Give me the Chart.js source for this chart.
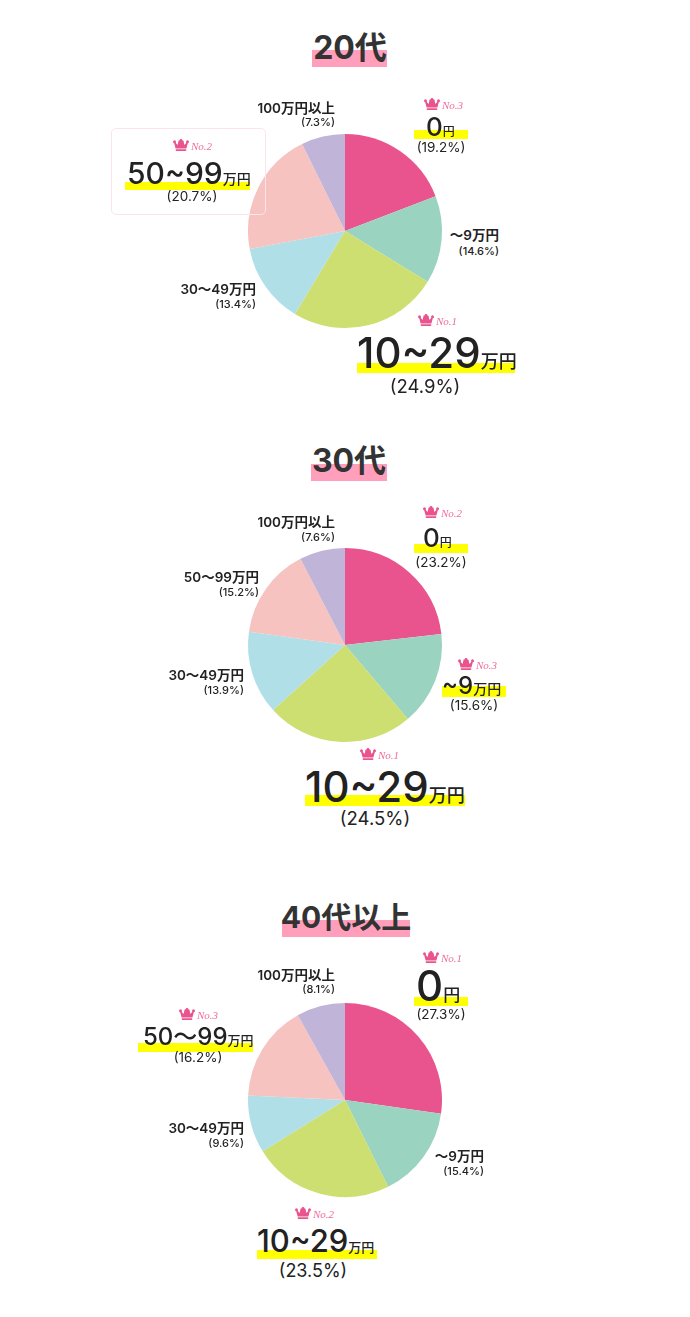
<!DOCTYPE html>
<html lang="ja">
<head>
<meta charset="utf-8">
<script src="https://cdn.jsdelivr.net/npm/chart.js@4"></script>
<style>
html, body { margin: 0; background: #fff; }
#page { position: relative; width: 690px; height: 1317px; overflow: hidden; font-family: Inter, "Noto Sans CJK JP", sans-serif; color: #222; }
#page canvas { position: absolute; left: 245px; }
.t { position: absolute; white-space: nowrap; line-height: 0; z-index: 2; }
.bar { position: absolute; z-index: 1; }
.ttl { color: #333; transform: translateX(-50%); }
.no { font-family: "Liberation Serif", serif; font-style: italic; color: #f06c9e; }
.crown { position: absolute; z-index: 2; }
</style>
</head>
<body>
<div id="page"></div>
<script>
const categoryNums = ['0', '〜9', '10〜29', '30〜49', '50〜99', '100'];
const categoryUnits = ['円', '万円', '万円', '万円', '万円', '万円以上'];
const groupNames = ['20代', '30代', '40代以上'];
const values20 = [19.2, 14.6, 24.9, 13.4, 20.7, 7.3];
const values30 = [23.2, 15.6, 24.5, 13.9, 15.2, 7.6];
const values40 = [27.3, 15.4, 23.5, 9.6, 16.2, 8.1];
const sliceColors = ['#e9548e', '#9ad3bf', '#ccdf70', '#b0dfe8', '#f6c3c0', '#c0b4d8'];

const page = document.getElementById('page');

function addText(cls, text, x, y, size, weight, align) {
    const d = document.createElement('div');
    d.className = 't ' + cls;
    d.textContent = text;
    d.style.top = y + 'px';
    if (align === 'right') d.style.right = (690 - x) + 'px';
    else d.style.left = x + 'px';
    if (align === 'center') d.style.transform = 'translateX(-50%)';
    if (size) d.style.fontSize = size + 'px';
    if (weight) d.style.fontWeight = weight;
    page.appendChild(d);
    return d;
}

function addBar(x, y, w, h, color) {
    const d = document.createElement('div');
    d.className = 'bar';
    d.style.cssText = `left:${x}px;top:${y}px;width:${w}px;height:${h}px;background:${color}`;
    page.appendChild(d);
}

function addCrown(x, y, rank) {
    const ns = 'http://www.w3.org/2000/svg';
    const s = document.createElementNS(ns, 'svg');
    s.setAttribute('class', 'crown');
    s.setAttribute('width', 16);
    s.setAttribute('height', 12);
    s.setAttribute('viewBox', '0 0 16 12');
    s.style.left = x + 'px';
    s.style.top = y + 'px';
    s.innerHTML = '<path fill="#e9548e" d="M2.6 9.6 1 3.5h1.4L4.6 6 5.6 1.5h4.8L11.4 6l2.2-2.5H15L13.4 9.6zM2.8 10.2h10.4V12H2.8z"/>' +
        '<circle cx="1.5" cy="2.8" r="1.5" fill="#e9548e"/><circle cx="8" cy="1.4" r="1.4" fill="#e9548e"/><circle cx="14.5" cy="2.8" r="1.5" fill="#e9548e"/>';
    page.appendChild(s);
    addText('no', 'No.' + rank, x + 18, y + 7, 11, 400);
}

// small label: amount line plus percent under it, right aligned
function smallLabel(cat, vals, x, y, pctY) {
    addText('', categoryNums[cat] + categoryUnits[cat], x, y, 13.5, 600, 'right');
    addText('', '(' + vals[cat] + '%)', x, pctY, 11, 500, 'right');
}

// ranked label: big number, smaller unit, yellow marker and crown
function rankLabel(cat, vals, o) {
    const d = addText('', '', o.x, o.y, o.size, 500);
    d.textContent = o.wide ? categoryNums[cat] : categoryNums[cat].replace('〜', '~');
    const u = document.createElement('span');
    u.textContent = categoryUnits[cat];
    u.style.fontSize = o.unit + 'px';
    d.appendChild(u);
    addBar(o.barX, o.barY, o.barW, o.barH, '#ffff00');
    addText('', '(' + vals[cat] + '%)', o.pctX, o.pctY, o.pct, 400, 'center');
    addCrown(o.crownX, o.crownY, o.rank);
}

function addPie(top, vals) {
    const c = document.createElement('canvas');
    c.width = 200;
    c.height = 200;
    c.style.top = top + 'px';
    page.appendChild(c);
    new Chart(c.getContext('2d'), {
        type: 'pie',
        data: {
            labels: categoryNums.map((n, i) => n + categoryUnits[i]),
            datasets: [{ data: vals, backgroundColor: sliceColors, borderWidth: 0 }]
        },
        options: {
            responsive: false,
            animation: false,
            layout: { padding: 3 },
            plugins: { legend: { display: false }, tooltip: { enabled: false } }
        }
    });
}

function addTitle(i, cx, y, size, barX, barY, barW) {
    addText('ttl', groupNames[i], cx, y, size, 700);
    addBar(barX, barY, barW, 17, '#ff9fbb');
}

addTitle(0, 350, 48, 32, 312, 50, 75);
addTitle(1, 349, 461, 32, 311, 464, 76);
addTitle(2, 346, 917, 30, 282, 920, 128);

addPie(131, values20);
addPie(545, values30);
addPie(1000, values40);

// 20代
smallLabel(5, values20, 335, 108, 122);
rankLabel(0, values20, { x: 426, y: 127, size: 26, unit: 12, barX: 414, barY: 130, barW: 54, barH: 9, pctX: 441, pctY: 147, pct: 13.5, crownX: 424, crownY: 98, rank: 3 });
smallLabel(1, values20, 499, 235, 251);
rankLabel(2, values20, { x: 357, y: 353, size: 42, unit: 18, barX: 357, barY: 363, barW: 158, barH: 10, pctX: 425, pctY: 386, pct: 18.5, crownX: 418, crownY: 314, rank: 1 });
smallLabel(3, values20, 256, 289, 304);
rankLabel(4, values20, { x: 127, y: 173, size: 30, unit: 14, barX: 125, barY: 182, barW: 125, barH: 8, pctX: 192, pctY: 196, pct: 13.5, crownX: 173, crownY: 139, rank: 2 });
const box = document.createElement('div');
box.style.cssText = 'position:absolute;left:111px;top:128px;width:153px;height:85px;border:1px solid #fde3ec;border-radius:5px';
page.appendChild(box);

// 30代
smallLabel(5, values30, 335, 522, 537);
rankLabel(0, values30, { x: 423, y: 538, size: 26, unit: 12, barX: 414, barY: 544, barW: 54, barH: 9, pctX: 441, pctY: 562, pct: 13.5, crownX: 423, crownY: 506, rank: 2 });
smallLabel(3, values30, 244, 675, 690);
smallLabel(4, values30, 259, 577, 592);
rankLabel(1, values30, { x: 442, y: 686, size: 24, unit: 14, barX: 442, barY: 686, barW: 64, barH: 11, pctX: 474, pctY: 705, pct: 13.5, crownX: 458, crownY: 658, rank: 3 });
rankLabel(2, values30, { x: 305, y: 787, size: 42, unit: 18, barX: 305, barY: 795, barW: 160, barH: 11, pctX: 375, pctY: 818, pct: 18.5, crownX: 360, crownY: 748, rank: 1 });

// 40代以上
smallLabel(5, values40, 335, 975, 989);
rankLabel(0, values40, { x: 416, y: 986, size: 42, unit: 17, barX: 414, barY: 997, barW: 54, barH: 9, pctX: 441, pctY: 1014, pct: 13.5, crownX: 423, crownY: 951, rank: 1 });
smallLabel(1, values40, 484, 1156, 1171);
smallLabel(3, values40, 244, 1128, 1143);
rankLabel(4, values40, { x: 143, y: 1037, size: 24, unit: 13, wide: true, barX: 138, barY: 1043, barW: 115, barH: 9, pctX: 198, pctY: 1057, pct: 13.5, crownX: 179, crownY: 1008, rank: 3 });
rankLabel(2, values40, { x: 257, y: 1241, size: 31, unit: 13, barX: 257, barY: 1250, barW: 120, barH: 9, pctX: 313, pctY: 1271, pct: 18, crownX: 295, crownY: 1207, rank: 2 });
</script>
</body>
</html>
